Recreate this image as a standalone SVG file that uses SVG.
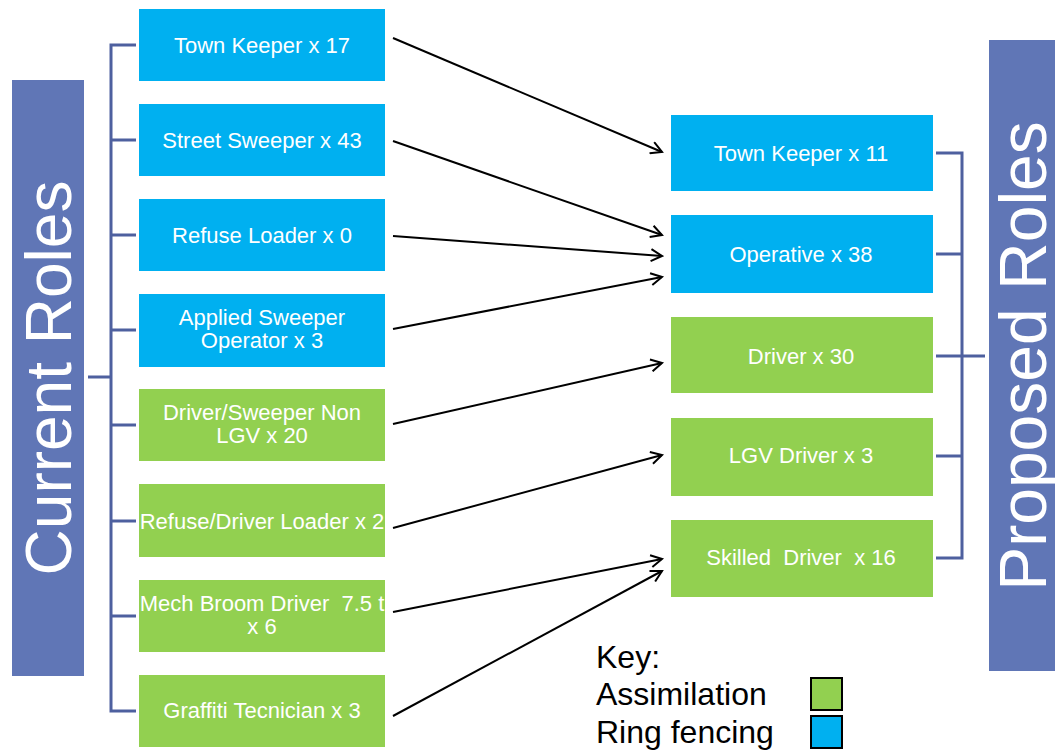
<svg xmlns="http://www.w3.org/2000/svg" width="1055" height="753" viewBox="0 0 1055 753">
<style>
.blue{fill:#00B0F0}
.green{fill:#92D050}
.lbl{font-family:"Liberation Sans",Arial,sans-serif;font-size:22px;fill:#fff;text-anchor:middle;white-space:pre}
.side{fill:#6076B6}
.sidet{font-family:"Liberation Sans",Arial,sans-serif;fill:#fff;text-anchor:middle}
.br{stroke:#4E609F;stroke-width:3;fill:none}
.arr{stroke:#000;stroke-width:2;fill:none;marker-end:url(#ah)}
.key{font-family:"Liberation Sans",Arial,sans-serif;font-size:32px;fill:#000}
</style>
<defs>
<marker id="ah" markerWidth="14" markerHeight="14" viewBox="-12 -7 14 14" refX="0" refY="0" orient="auto" markerUnits="userSpaceOnUse">
<path d="M-11,-6 L0,0 L-11,6" stroke="#000" stroke-width="2" fill="none"/>
</marker>
</defs>
<rect width="1055" height="753" fill="#fff"/>
<g id="current-roles">
<rect class="side" x="12" y="80" width="72" height="596"/>
<text class="sidet" font-size="64" transform="translate(71,378) rotate(-90)">Current Roles</text>
</g>
<g id="proposed-roles">
<rect class="side" x="989" y="40" width="66" height="631"/>
<text class="sidet" font-size="66" transform="translate(1046,356) rotate(-90)">Proposed Roles</text>
</g>
<g id="brackets">
<path class="br" d="M136,45 H111 V711 H136 M111,140 H136 M111,235 H136 M111,330 H136 M111,425 H136 M111,521 H136 M111,616 H136 M88,377 H111"/>
<path class="br" d="M936,153 H962 V558 H936 M936,254 H962 M936,356 H962 M936,456 H962 M962,356 H985"/>
</g>
<g id="n1"><rect class="blue" x="139" y="9" width="246" height="72"/><text class="lbl" x="262" y="53">Town Keeper x 17</text></g>
<g id="n2"><rect class="blue" x="139" y="104" width="246" height="72"/><text class="lbl" x="262" y="148">Street Sweeper x 43</text></g>
<g id="n3"><rect class="blue" x="139" y="199" width="246" height="72"/><text class="lbl" x="262" y="243">Refuse Loader x 0</text></g>
<g id="n4"><rect class="blue" x="139" y="294" width="246" height="73"/><text class="lbl" x="262" y="325">Applied Sweeper</text><text class="lbl" x="262" y="348">Operator x 3</text></g>
<g id="n5"><rect class="green" x="139" y="389" width="246" height="72"/><text class="lbl" x="262" y="420">Driver/Sweeper Non</text><text class="lbl" x="262" y="443">LGV x 20</text></g>
<g id="n6"><rect class="green" x="139" y="484" width="246" height="73"/><text class="lbl" x="262" y="529">Refuse/Driver Loader x 2</text></g>
<g id="n7"><rect class="green" x="139" y="580" width="246" height="72"/><text class="lbl" x="262" y="611">Mech Broom Driver  7.5 t</text><text class="lbl" x="262" y="634">x 6</text></g>
<g id="n8"><rect class="green" x="139" y="675" width="246" height="72"/><text class="lbl" x="262" y="718">Graffiti Tecnician x 3</text></g>
<g id="p1"><rect class="blue" x="671" y="115" width="262" height="76"/><text class="lbl" x="801" y="161">Town Keeper x 11</text></g>
<g id="p2"><rect class="blue" x="671" y="215" width="262" height="78"/><text class="lbl" x="801" y="262">Operative x 38</text></g>
<g id="p3"><rect class="green" x="671" y="317" width="262" height="76"/><text class="lbl" x="801" y="364">Driver x 30</text></g>
<g id="p4"><rect class="green" x="671" y="418" width="262" height="78"/><text class="lbl" x="801" y="463">LGV Driver x 3</text></g>
<g id="p5"><rect class="green" x="671" y="520" width="262" height="77"/><text class="lbl" x="801" y="565">Skilled  Driver  x 16</text></g>
<g id="connectors">
<line class="arr" x1="393" y1="38" x2="662" y2="152"/>
<line class="arr" x1="393" y1="141" x2="662" y2="235"/>
<line class="arr" x1="393" y1="236" x2="662" y2="256"/>
<line class="arr" x1="393" y1="329" x2="662" y2="277"/>
<line class="arr" x1="393" y1="424" x2="662" y2="363"/>
<line class="arr" x1="393" y1="528" x2="662" y2="455"/>
<line class="arr" x1="393" y1="612" x2="662" y2="559"/>
<line class="arr" x1="393" y1="716" x2="662" y2="571"/>
</g>
<g id="key">
<text class="key" x="596" y="668">Key:</text>
<text class="key" x="596" y="705">Assimilation</text>
<text class="key" x="596" y="743">Ring fencing</text>
<rect class="green" x="811" y="678" width="31" height="32" stroke="#000" stroke-width="2"/>
<rect class="blue" x="811" y="716" width="31" height="32" stroke="#000" stroke-width="2"/>
</g>
</svg>
